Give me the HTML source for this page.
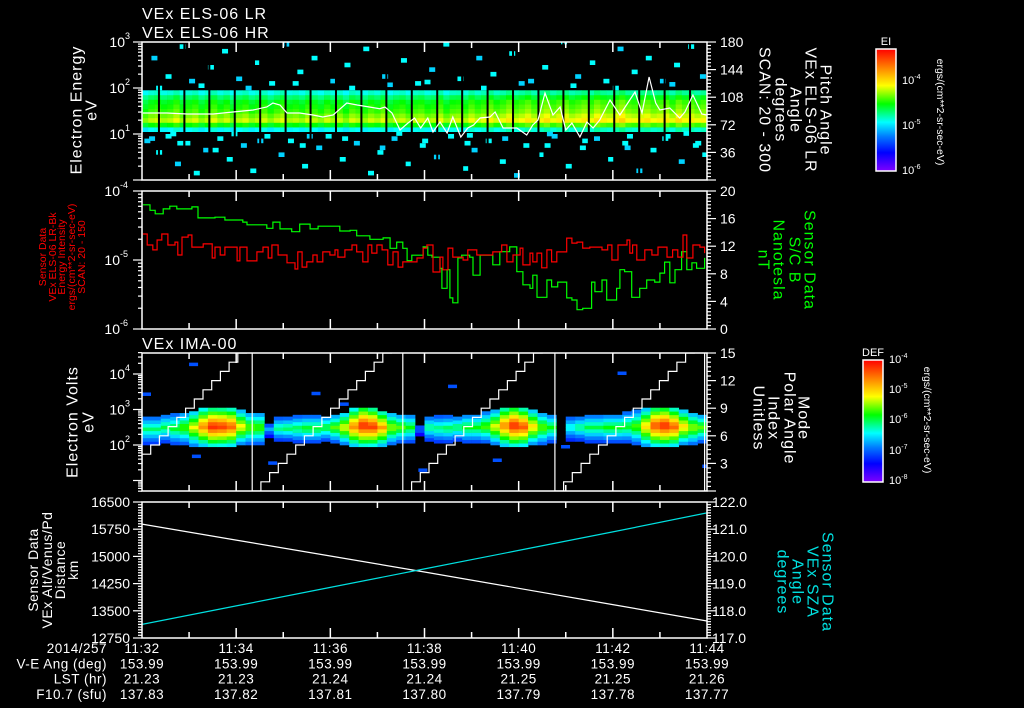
<!DOCTYPE html>
<html><head><meta charset="utf-8">
<style>
html,body{margin:0;padding:0;background:#000;}
svg{display:block;font-family:"Liberation Sans",sans-serif;}
text{fill:#fff;}
</style></head>
<body>
<svg id="chart" width="1024" height="708" viewBox="0 0 1024 708" xmlns="http://www.w3.org/2000/svg">
<rect x="0" y="0" width="1024" height="708" fill="#000"/>
<defs>
<linearGradient id="rainbow" x1="0" y1="0" x2="0" y2="1">
<stop offset="0" stop-color="#ff0000"/><stop offset="0.15" stop-color="#ff8000"/><stop offset="0.3" stop-color="#ffff00"/>
<stop offset="0.45" stop-color="#00ff00"/><stop offset="0.6" stop-color="#00ffff"/><stop offset="0.72" stop-color="#0078ff"/>
<stop offset="0.85" stop-color="#0000ff"/><stop offset="1" stop-color="#8000ff"/>
</linearGradient>
<clipPath id="c1"><rect x="142" y="42" width="565" height="138"/></clipPath>
<clipPath id="c2"><rect x="142" y="191" width="565" height="138"/></clipPath>
<clipPath id="c3"><rect x="142" y="353" width="565" height="138"/></clipPath>
<clipPath id="c4"><rect x="142" y="502" width="565" height="136"/></clipPath>
</defs>

<text x="142" y="19" font-size="16" letter-spacing="1">VEx ELS-06 LR</text>
<text x="142" y="38" font-size="16" letter-spacing="1">VEx ELS-06 HR</text>
<text x="142" y="349" font-size="16" letter-spacing="1">VEx IMA-00</text>

<g id="spec1" clip-path="url(#c1)"></g>
<g id="pl1" clip-path="url(#c1)"></g>
<g id="pl2" clip-path="url(#c2)"></g>
<g id="spec3" clip-path="url(#c3)"></g>
<g id="pl3" clip-path="url(#c3)"></g>
<g id="pl4" clip-path="url(#c4)"></g>
<g id="axes"></g>

<g font-size="16" letter-spacing="1">
<text transform="translate(77,110) rotate(-90)" text-anchor="middle" dominant-baseline="central">Electron Energy</text>
<text transform="translate(92,110) rotate(-90)" text-anchor="middle" dominant-baseline="central">eV</text>
</g>
<g font-size="10.5">
<text transform="translate(43,257) rotate(-90)" text-anchor="middle" dominant-baseline="central" style="fill:#ff0000">Sensor Data</text>
<text transform="translate(53,257) rotate(-90)" text-anchor="middle" dominant-baseline="central" style="fill:#ff0000">VEx ELS-06 LR-Bk</text>
<text transform="translate(62,257) rotate(-90)" text-anchor="middle" dominant-baseline="central" style="fill:#ff0000">Energy Intensity</text>
<text transform="translate(72,257) rotate(-90)" text-anchor="middle" dominant-baseline="central" style="fill:#ff0000">ergs/(cm**2-sr-sec-eV)</text>
<text transform="translate(82,257) rotate(-90)" text-anchor="middle" dominant-baseline="central" style="fill:#ff0000">SCAN: 20 - 150</text>
</g>
<g font-size="16" letter-spacing="1">
<text transform="translate(73,422) rotate(-90)" text-anchor="middle" dominant-baseline="central">Electron Volts</text>
<text transform="translate(89,422) rotate(-90)" text-anchor="middle" dominant-baseline="central">eV</text>
</g>
<g font-size="14" letter-spacing="0.5">
<text transform="translate(33,570) rotate(-90)" text-anchor="middle" dominant-baseline="central">Sensor Data</text>
<text transform="translate(47,570) rotate(-90)" text-anchor="middle" dominant-baseline="central">VEx Alt/Venus/Pd</text>
<text transform="translate(60,570) rotate(-90)" text-anchor="middle" dominant-baseline="central">Distance</text>
<text transform="translate(73,570) rotate(-90)" text-anchor="middle" dominant-baseline="central">km</text>
</g>

<g font-size="16" letter-spacing="1">
<text transform="translate(825,110) rotate(90)" text-anchor="middle" dominant-baseline="central">Pitch Angle</text>
<text transform="translate(810,110) rotate(90)" text-anchor="middle" dominant-baseline="central">VEx ELS-06 LR</text>
<text transform="translate(795,110) rotate(90)" text-anchor="middle" dominant-baseline="central">Angle</text>
<text transform="translate(780,110) rotate(90)" text-anchor="middle" dominant-baseline="central">degrees</text>
<text transform="translate(764,110) rotate(90)" text-anchor="middle" dominant-baseline="central">SCAN: 20 - 300</text>
</g>
<g font-size="16" letter-spacing="1">
<text transform="translate(809,260) rotate(90)" text-anchor="middle" dominant-baseline="central" style="fill:#00ff00">Sensor Data</text>
<text transform="translate(794,260) rotate(90)" text-anchor="middle" dominant-baseline="central" style="fill:#00ff00">S/C B</text>
<text transform="translate(778,260) rotate(90)" text-anchor="middle" dominant-baseline="central" style="fill:#00ff00">Nanotesla</text>
<text transform="translate(763,260) rotate(90)" text-anchor="middle" dominant-baseline="central" style="fill:#00ff00">nT</text>
</g>
<g font-size="16" letter-spacing="1">
<text transform="translate(803,418) rotate(90)" text-anchor="middle" dominant-baseline="central">Mode</text>
<text transform="translate(789,418) rotate(90)" text-anchor="middle" dominant-baseline="central">Polar Angle</text>
<text transform="translate(773,418) rotate(90)" text-anchor="middle" dominant-baseline="central">Index</text>
<text transform="translate(758,418) rotate(90)" text-anchor="middle" dominant-baseline="central">Unitless</text>
</g>
<g font-size="16" letter-spacing="1">
<text transform="translate(827,582) rotate(90)" text-anchor="middle" dominant-baseline="central" style="fill:#00e0e0">Sensor Data</text>
<text transform="translate(812,582) rotate(90)" text-anchor="middle" dominant-baseline="central" style="fill:#00e0e0">VEx SZA</text>
<text transform="translate(797,582) rotate(90)" text-anchor="middle" dominant-baseline="central" style="fill:#00e0e0">Angle</text>
<text transform="translate(782,582) rotate(90)" text-anchor="middle" dominant-baseline="central" style="fill:#00e0e0">degrees</text>
</g>

<g>
<text x="886" y="45" font-size="11" text-anchor="middle">EI</text>
<rect x="876" y="49" width="20" height="122" fill="url(#rainbow)" stroke="#fff" stroke-width="1.5"/>
<text x="902" y="84" font-size="11">10<tspan dy="-5" font-size="7">-4</tspan></text>
<text x="902" y="129" font-size="11">10<tspan dy="-5" font-size="7">-5</tspan></text>
<text x="902" y="174" font-size="11">10<tspan dy="-5" font-size="7">-6</tspan></text>
<text transform="translate(940,112) rotate(90)" text-anchor="middle" dominant-baseline="central" font-size="10.5">ergs/(cm**2-sr-sec-eV)</text>
</g>
<g>
<text x="873" y="356" font-size="11" text-anchor="middle">DEF</text>
<rect x="863" y="360" width="20" height="122" fill="url(#rainbow)" stroke="#fff" stroke-width="1.5"/>
<text x="889" y="363" font-size="11">10<tspan dy="-5" font-size="7">-4</tspan></text>
<text x="889" y="393" font-size="11">10<tspan dy="-5" font-size="7">-5</tspan></text>
<text x="889" y="423" font-size="11">10<tspan dy="-5" font-size="7">-6</tspan></text>
<text x="889" y="454" font-size="11">10<tspan dy="-5" font-size="7">-7</tspan></text>
<text x="889" y="484" font-size="11">10<tspan dy="-5" font-size="7">-8</tspan></text>
<text transform="translate(927,420) rotate(90)" text-anchor="middle" dominant-baseline="central" font-size="10.5">ergs/(cm**2-sr-sec-eV)</text>
</g>

<g id="bottom" font-size="13.5" letter-spacing="0.5"></g>
</svg>

<script>
const timeLabels = ["11:32","11:34","11:36","11:38","11:40","11:42","11:44"];
const veAng = ["153.99","153.99","153.99","153.99","153.99","153.99","153.99"];
const lstHr = ["21.23","21.23","21.24","21.24","21.25","21.25","21.26"];
const f107 = ["137.83","137.82","137.81","137.80","137.79","137.78","137.77"];

const elsBinLo = [1.05,1.15,1.25,1.35,1.45,1.55,1.65,1.75,1.85];
const elsProfile = [0.42,0.55,0.66,0.62,0.58,0.56,0.54,0.50,0.44];
const elsGain = [0.95,1,1.02,0.98,1,1.05,0.97,1,1.03,0.96,1,1.04,0.98,1.02,0.95,1,1.03,0.97,1,1.02,0.96,1.01,1.04,0.98,1,0.97,1.03,1,0.96,1.02,
0.98,1.01,0.95,1.03,1,0.97,1.02,0.99,1.04,0.96,1,1.02,0.97,1.01,1.03,0.98,1,1.05,0.97,1.02,
1.03,0.99,1.06,1.01,1.04,1.08,1.02,1.05,1.1,1.03,1.06,1.1,1.04,1.08,1.12,1.05,1.09,1.1,1.04,1.07,
1.1,1.05,1.12,1.08,1.06,1.1,1.14,1.07,1.05,1.09,1.11,1.06,1.08,1.1,1.04,1.12,1.07,1.09,1.05,1.08];
const elsGapTimes = [0.36,0.90,1.43,1.97,2.51,3.05,3.58,4.12,4.66,5.19,5.73,6.27,6.80,7.34,7.88,8.42,8.95,9.49,10.03,10.56,11.10,11.64];
const elsDotT = [0.05,0.3,0.5,0.7,0.9,1.1,1.3,1.6,1.8,2.1,2.3,2.6,2.9,3.1,3.4,3.7,3.9,4.2,4.5,4.8,5.0,5.3,5.6,5.9,6.2,6.5,6.8,7.0,7.3,7.6,7.9,8.1,8.4,8.7,9.0,9.3,9.6,9.9,10.2,10.5,10.8,11.1,11.4,11.7,11.9,
0.2,0.5,0.8,1.0,1.4,1.7,2.0,2.4,2.7,3.0,3.3,3.6,4.0,4.3,4.7,5.1,5.5,5.8,6.1,6.4,6.7,7.1,7.4,7.8,8.2,8.5,8.9,9.2,9.5,9.8,10.1,10.4,10.7,11.0,11.3,11.6,11.85,
0.3,1.2,2.2,3.2,4.4,5.2,6.0,7.2,8.0,9.1,10.0,11.2,0.6,1.9,3.5,5.4,6.9,8.6,10.3,11.5,
0.15,0.75,1.5,2.45,3.35,4.25,5.05,5.95,6.85,7.65,8.55,9.35,10.25,11.05,11.75];
const elsDotE = [0.8,0.55,0.9,0.3,0.75,0.1,0.6,0.85,0.4,0.7,0.15,0.9,0.5,0.8,0.25,0.65,0.9,0.4,0.75,0.1,0.55,0.85,0.3,0.7,0.45,0.9,0.2,0.6,0.8,0.35,0.05,0.7,0.5,0.9,0.25,0.65,0.85,0.4,0.75,0.15,0.6,0.9,0.35,0.7,0.5,
2.6,2.2,2.85,2.1,2.4,2.75,2.15,2.5,2.05,2.9,2.3,2.6,2.1,2.45,2.8,2.2,2.55,2.05,2.35,2.9,2.15,2.6,2.25,2.7,2.1,2.4,2.95,2.2,2.5,2.1,2.8,2.3,2.6,2.1,2.45,2.85,2.2,
1.95,2.0,1.95,2.05,1.95,2.02,2.08,1.95,2.05,2.0,1.95,2.03,0.95,0.95,0.9,0.96,0.92,0.95,0.9,0.96,
0.85,0.75,0.6,0.8,0.7,0.85,0.65,0.8,0.75,0.85,0.7,0.8,0.65,0.85,0.75];

const pitchT = [0.02,0.53,0.96,1.51,1.93,2.36,2.65,2.78,2.93,3.08,3.35,3.63,3.84,4.06,4.35,4.57,5.05,5.16,5.31,5.48,5.65,5.79,5.92,6.07,6.18,6.33,6.48,6.60,6.77,6.92,7.04,7.18,7.39,7.50,7.67,7.96,8.17,8.30,8.41,8.56,8.73,8.88,9.00,9.13,9.30,9.45,9.58,9.72,9.94,10.15,10.47,10.62,10.77,10.91,11.00,11.21,11.42,11.53,11.70,11.89,11.99];
const pitchV = [87.4,87.4,86.1,86.1,88.7,91.3,95.2,100.4,97.8,87.4,87.4,84.8,82.2,84.8,100.4,97.8,93,95.2,87.4,65.2,74.3,80.9,67.8,80.9,62.6,75.7,61.3,82.2,56.1,67.8,71.7,80.9,82.2,88.7,67.8,67.8,58.7,71.7,78.3,113.5,84.8,95.2,65.2,74.3,56.1,75.7,67.8,78.3,104.3,84.8,114.8,87.4,134.3,100.4,91.3,93.9,80.9,88.7,110.9,86.1,84.8];

const bT = [0.02,0.17,0.28,0.45,0.59,0.74,1.06,1.19,1.49,1.55,1.76,2.14,2.23,2.65,2.78,2.93,3.18,3.35,3.57,3.74,4.10,4.20,4.42,4.56,4.84,5.12,5.27,5.41,5.54,5.63,5.73,5.97,6.07,6.16,6.33,6.37,6.48,6.54,6.60,6.71,6.79,6.96,7.03,7.18,7.45,7.60,7.81,7.96,8.09,8.24,8.30,8.39,8.60,8.70,8.83,9.02,9.13,9.24,9.36,9.55,9.62,9.77,9.87,9.98,10.08,10.15,10.25,10.40,10.57,10.72,10.89,11.00,11.10,11.21,11.32,11.46,11.57,11.68,11.78,11.95];
const bNT = [18.0,17.2,16.7,17.4,17.8,17.4,17.7,16.1,16.1,16.2,15.8,15.5,15.1,14.6,15.5,14.5,14.1,15.2,14.5,14.9,14.9,14.2,14.3,13.5,13.0,13.2,11.7,12.6,11.7,9.9,10.7,11.9,10.7,10.4,8.8,5.9,8.6,4.5,3.8,10.3,10.7,10.4,7.8,10.7,9.3,11.2,11.9,8.3,6.4,5.9,7.8,4.6,7.1,6.1,6.8,4.5,4.2,2.8,3.0,6.8,5.4,7.1,4.2,4.2,5.9,8.6,8.3,4.6,5.9,7.1,6.8,8.1,9.7,6.7,8.6,11.2,8.6,9.6,8.8,10.3];
const eiT = [0.02,0.11,0.23,0.32,0.42,0.55,0.70,0.76,0.85,0.98,1.06,1.23,1.30,1.49,1.55,1.66,1.76,1.91,2.02,2.08,2.23,2.40,2.44,2.57,2.68,2.76,2.89,3.08,3.21,3.25,3.31,3.40,3.50,3.63,3.72,3.84,3.99,4.10,4.16,4.31,4.46,4.56,4.69,4.80,4.88,4.99,5.10,5.22,5.33,5.44,5.54,5.69,5.84,5.97,6.05,6.18,6.33,6.39,6.50,6.60,6.82,6.92,7.11,7.32,7.45,7.64,7.75,7.88,8.03,8.09,8.24,8.30,8.39,8.49,8.60,8.70,8.81,9.02,9.13,9.24,9.36,9.51,9.77,9.89,9.98,10.11,10.30,10.36,10.42,10.51,10.68,10.83,10.96,11.15,11.27,11.38,11.49,11.57,11.70,11.85,11.95];
const eiV = [2.38e-5,1.65e-5,1.40e-5,1.95e-5,2.38e-5,1.65e-5,1.82e-5,1.18e-5,2.15e-5,2.30e-5,1.54e-5,1.54e-5,1.71e-5,1.07e-5,1.54e-5,1.18e-5,1.54e-5,1.54e-5,9.7e-6,1.54e-5,9.7e-6,9.7e-6,1.31e-5,1.54e-5,1.07e-5,1.65e-5,1.18e-5,9.1e-6,9.1e-6,7.4e-6,1.31e-5,7.9e-6,9.4e-6,1.18e-5,9.4e-6,1.31e-5,1.18e-5,1.40e-5,1.10e-5,1.40e-5,1.65e-5,1.31e-5,9.4e-6,1.65e-5,1.26e-5,1.65e-5,1.40e-5,8.5e-6,1.31e-5,7.9e-6,9.4e-6,9.4e-6,1.07e-5,1.49e-5,1.65e-5,6.7e-6,1.10e-5,7.2e-6,1.49e-5,1.10e-5,1.0e-5,1.40e-5,1.18e-5,1.18e-5,1.31e-5,1.65e-5,9.4e-6,1.18e-5,1.49e-5,8.5e-6,1.26e-5,9.4e-6,1.26e-5,7.7e-6,1.40e-5,9.4e-6,1.31e-5,2.08e-5,1.76e-5,1.82e-5,1.49e-5,1.54e-5,1.40e-5,1.65e-5,1.0e-5,1.65e-5,1.95e-5,1.26e-5,1.65e-5,1.0e-5,1.40e-5,1.18e-5,1.54e-5,1.10e-5,1.40e-5,1.10e-5,2.30e-5,1.07e-5,1.65e-5,1.54e-5,1.26e-5];

const imaPeak = [0.5,0.5,0.52,0.55,0.6,0.7,0.85,0.97,0.95,0.9,0.72,0.62,0.6,0.35,0.5,0.52,0.52,0.55,0.55,0.55,0.6,0.7,0.85,0.97,0.95,0.82,0.65,0.6,0.55,0.3,
0.5,0.5,0.52,0.52,0.55,0.55,0.6,0.7,0.85,0.97,0.92,0.75,0.62,0.55,0,0.45,0.5,0.52,0.52,0.55,0.55,0.55,0.6,0.75,0.92,0.97,0.9,0.75,0.65,0.6];
const imaLo = [2.0,2.0,2.05,2.0,2.0,1.95,1.95,1.95,1.95,1.95,2.0,2.0,2.0,2.2,2.1,2.1,2.05,2.05,2.05,2.1,2.05,2.0,1.95,1.95,1.95,1.95,2.0,2.05,2.05,2.25,
2.1,2.05,2.05,2.1,2.05,2.05,2.05,2.0,1.95,1.95,1.95,2.0,2.0,2.05,2.2,2.1,2.1,2.05,2.05,2.05,2.05,2.05,2.0,1.95,1.95,1.95,1.95,2.0,2.0,2.05];
const imaHi = [2.8,2.8,2.85,2.85,2.9,2.95,3.0,3.0,3.0,3.0,2.95,2.9,2.9,2.6,2.75,2.75,2.8,2.8,2.8,2.8,2.85,2.9,3.0,3.05,3.0,2.95,2.9,2.85,2.85,2.55,
2.8,2.8,2.8,2.8,2.85,2.85,2.9,2.95,3.05,3.05,3.0,2.95,2.9,2.85,2.65,2.8,2.8,2.85,2.85,2.85,2.85,2.9,2.95,3.0,3.05,3.05,3.0,2.95,2.9,2.85];
const imaDotT = [1.0,0.0,3.6,2.68,1.06,10.1,7.45,5.87,4.2,8.9,6.5,11.9];
const imaDotE = [4.22,3.38,3.4,1.44,1.63,3.97,1.52,1.24,3.1,1.9,3.6,1.35];
const polarResets = [-0.74,2.34,5.54,8.77,11.95];
const polarStep = 0.185;

const orbT = [0,2,4,6,8,10,12];
const altKm = [15890,15450,15010,14570,14120,13670,13220];
const szaDeg = [117.50,118.18,118.86,119.54,120.22,120.90,121.60];

const X0=142, X1=707;
const xT = t => X0 + t*(X1-X0)/12;
const y1 = le => 180 - le*46;
const yPitch = d => 180 - d/180*138;
const y2L = v => 191 + (-4 - Math.log10(v))*69;
const y2R = b => 329 - b*6.9;
const y3 = le => 445 - (le-2)*35.5;
const y3R = v => 491 - v*9.2;
const y4L = a => 638 - (a-12750)/3750*136;
const y4R = s => 638 - (s-117)/5*136;

const NS="http://www.w3.org/2000/svg";
function mk(tag, attrs, parent){const e=document.createElementNS(NS,tag);for(const k in attrs)e.setAttribute(k,attrs[k]);parent.appendChild(e);return e;}
const stops=[[0,[128,0,255]],[0.15,[0,0,255]],[0.3,[0,120,255]],[0.42,[0,255,255]],[0.55,[0,255,0]],[0.7,[255,255,0]],[0.85,[255,128,0]],[1,[255,0,0]]];
function cmap(l){l=Math.max(0,Math.min(1,l));for(let i=1;i<stops.length;i++){if(l<=stops[i][0]){const a=stops[i-1],b=stops[i];const f=(l-a[0])/(b[0]-a[0]);const c=a[1].map((v,j)=>Math.round(v+(b[1][j]-v)*f));return `rgb(${c[0]},${c[1]},${c[2]})`;}}return "rgb(255,0,0)";}

const s1=document.getElementById('spec1');
const cw1=12/elsGain.length;
elsGain.forEach((g,i)=>{
  elsBinLo.forEach((lo,j)=>{
    const r=mk('rect',{x:xT(i*cw1),y:y1(lo+0.1),width:xT((i+1)*cw1)-xT(i*cw1)+0.3,height:y1(lo)-y1(lo+0.1)+0.3,fill:cmap(elsProfile[j]*g)},s1);
    
    
  });
});
elsDotT.forEach((t,i)=>{
  const r=mk('rect',{x:xT(t),y:y1(elsDotE[i]+0.1),width:6,height:4.6,fill:cmap(i%3===0?0.38:0.42)},s1);
  
  
});
elsGapTimes.forEach(t=>{
  const r=mk('rect',{x:xT(t)-1,y:42,width:2,height:138,fill:'#000'},s1);
  
  
});
(function(){const p1=document.getElementById('pl1');let d='';pitchT.forEach((t,i)=>{d+=(i?'L':'M')+xT(t).toFixed(1)+','+yPitch(pitchV[i]).toFixed(1);});
const l=mk('path',{d:d,fill:'none',stroke:'#fff','stroke-width':1.2},p1);

})();

function stepPath(ts,vs,fy){let d='';ts.forEach((t,i)=>{const x=xT(t).toFixed(1),y=fy(vs[i]).toFixed(1);if(i===0)d='M'+x+','+y;else d+='H'+x+'V'+y;});return d;}
(function(){const g=document.getElementById('pl2');
const gl=mk('path',{d:stepPath(bT,bNT,y2R),fill:'none',stroke:'#00ff00','stroke-width':1.2},g);


const rl=mk('path',{d:stepPath(eiT,eiV,y2L),fill:'none',stroke:'#ff0000','stroke-width':1.2},g);

})();

const s3=document.getElementById('spec3');
const cw3=12/imaPeak.length;
imaPeak.forEach((p,i)=>{
  if(p<=0)return;
  const lo=imaLo[i],hi=imaHi[i],c=(lo+hi)/2+0.05,half=(hi-lo)/2;
  for(let e=lo;e<hi-0.001;e+=0.1){
    const d=Math.min(1,Math.abs(e+0.05-c)/half);
    const r=mk('rect',{x:xT(i*cw3),y:y3(e+0.1),width:xT((i+1)*cw3)-xT(i*cw3)+0.3,height:3.85,fill:cmap(p*(1-0.55*d))},s3);
    
    
  }
});
imaDotT.forEach((t,i)=>{
  const r=mk('rect',{x:xT(t),y:y3(imaDotE[i]+0.1),width:9,height:3.5,fill:cmap(0.25)},s3);
  
  
});
(function(){const g=document.getElementById('pl3');
for(let c=0;c<polarResets.length;c++){
  const t0=polarResets[c], t1=c+1<polarResets.length?polarResets[c+1]:13;
  let d='M'+xT(Math.max(t0,-1)).toFixed(1)+','+y3R(0).toFixed(1);
  let k=0;
  while(t0+(k+1)*polarStep<t1){k++;const x=xT(t0+k*polarStep).toFixed(1);d+='H'+x+'V'+y3R(k).toFixed(1);}
  d+='H'+xT(Math.min(t1,12.5)).toFixed(1);
  if(c+1<polarResets.length)d+='V'+y3R(0).toFixed(1);
  const l=mk('path',{d:d,fill:'none',stroke:'#fff','stroke-width':1.2},g);
  
  
}})();

(function(){const g=document.getElementById('pl4');let d1='',d2='';
orbT.forEach((t,i)=>{d1+=(i?'L':'M')+xT(t).toFixed(1)+','+y4L(altKm[i]).toFixed(1);d2+=(i?'L':'M')+xT(t).toFixed(1)+','+y4R(szaDeg[i]).toFixed(1);});
const a=mk('path',{d:d1,fill:'none',stroke:'#fff','stroke-width':1.2},g);


const b=mk('path',{d:d2,fill:'none',stroke:'#00e0e0','stroke-width':1.2},g);

})();

const ax=document.getElementById('axes');
function line(xa,ya,xb,yb,w){mk('line',{x1:xa,y1:ya,x2:xb,y2:yb,stroke:'#fff','stroke-width':w||1.5},ax);}
function label(x,y,txt,anchor,sup){const t=mk('text',{x:x,y:y,'font-size':14,'text-anchor':anchor||'end','dominant-baseline':'central'},ax);t.textContent=txt;if(sup){const s=mk('tspan',{dy:-6,'font-size':9},t);s.textContent=sup;}return t;}
const panels=[[42,180],[191,329],[353,491],[502,638]];
panels.forEach(([top,bot])=>{
  mk('rect',{x:X0,y:top,width:X1-X0,height:bot-top,fill:'none',stroke:'#fff','stroke-width':1.5},ax);
  for(let m=1;m<12;m++){const x=xT(m);const L=m%2===0?10:6;line(x,top,x,top+L,1.5);line(x,bot,x,bot-L,1.5);}
});
function logAxis(top,bot,fy,decs,side){
  decs.forEach(dd=>{for(let k=1;k<10;k++){const y=fy(dd+Math.log10(k));if(y<top-0.5||y>bot+0.5)continue;const L=k===1?9:4;if(side==='L')line(X0-L,y,X0,y,1.2);else line(X1,y,X1+L,y,1.2);}});
}
logAxis(42,180,y1,[0,1,2,3],'L');
[[3,'3'],[2,'2'],[1,'1']].forEach(([d,s])=>label(130,y1(d),'10','end',s));
for(let v=0;v<=180;v+=4.5){const y=yPitch(v);const L=v%36===0?9:4;line(X1,y,X1+L,y,1.2);}
[180,144,108,72,36].forEach(v=>label(720,yPitch(v),String(v),'start'));
logAxis(191,329,v=>y2L(Math.pow(10,v)),[-6,-5,-4],'L');
[[-4,'-4'],[-5,'-5'],[-6,'-6']].forEach(([d,s])=>label(128,y2L(Math.pow(10,d)),'10','end',s));
for(let v=0;v<=20;v+=0.5){const y=y2R(v);const L=v%4===0?9:4;line(X1,y,X1+L,y,1.2);}
[20,16,12,8,4,0].forEach(v=>label(720,y2R(v),String(v),'start'));
logAxis(353,491,y3,[0,1,2,3,4],'L');
[[4,'4'],[3,'3'],[2,'2']].forEach(([d,s])=>label(130,y3(d),'10','end',s));
for(let v=0;v<=15;v+=0.5){const y=y3R(v);const L=v%3===0?9:4;line(X1,y,X1+L,y,1.2);}
[15,12,9,6,3].forEach(v=>label(720,y3R(v),String(v),'start'));
for(let v=12750;v<=16500;v+=75){const y=y4L(v);const L=(v-12750)%750===0?9:4;line(X0-L,y,X0,y,1.2);}
[16500,15750,15000,14250,13500,12750].forEach(v=>label(130,y4L(v),String(v),'end'));
for(let v=117;v<=122.001;v+=0.1){const y=y4R(v);const L=Math.abs(v-Math.round(v))<0.01?9:4;line(X1,y,X1+L,y,1.2);}
[122,121,120,119,118,117].forEach(v=>label(712,y4R(v),v.toFixed(1),'start'));

const bt=document.getElementById('bottom');
const rows=[["2014/257",timeLabels,'row-time'],["V-E Ang (deg)",veAng,'row-ve-angle'],["LST (hr)",lstHr,'row-lst'],["F10.7 (sfu)",f107,'row-f107']];
rows.forEach((r,ri)=>{
  const y=653+ri*15.3;
  const l=mk('text',{x:107,y:y,'text-anchor':'end'},bt);l.textContent=r[0];
  
  
  r[1].forEach((v,i)=>{const t=mk('text',{x:xT(i*2),y:y,'text-anchor':'middle'},bt);t.textContent=v;
    
    });
});
</script>
</body></html>
